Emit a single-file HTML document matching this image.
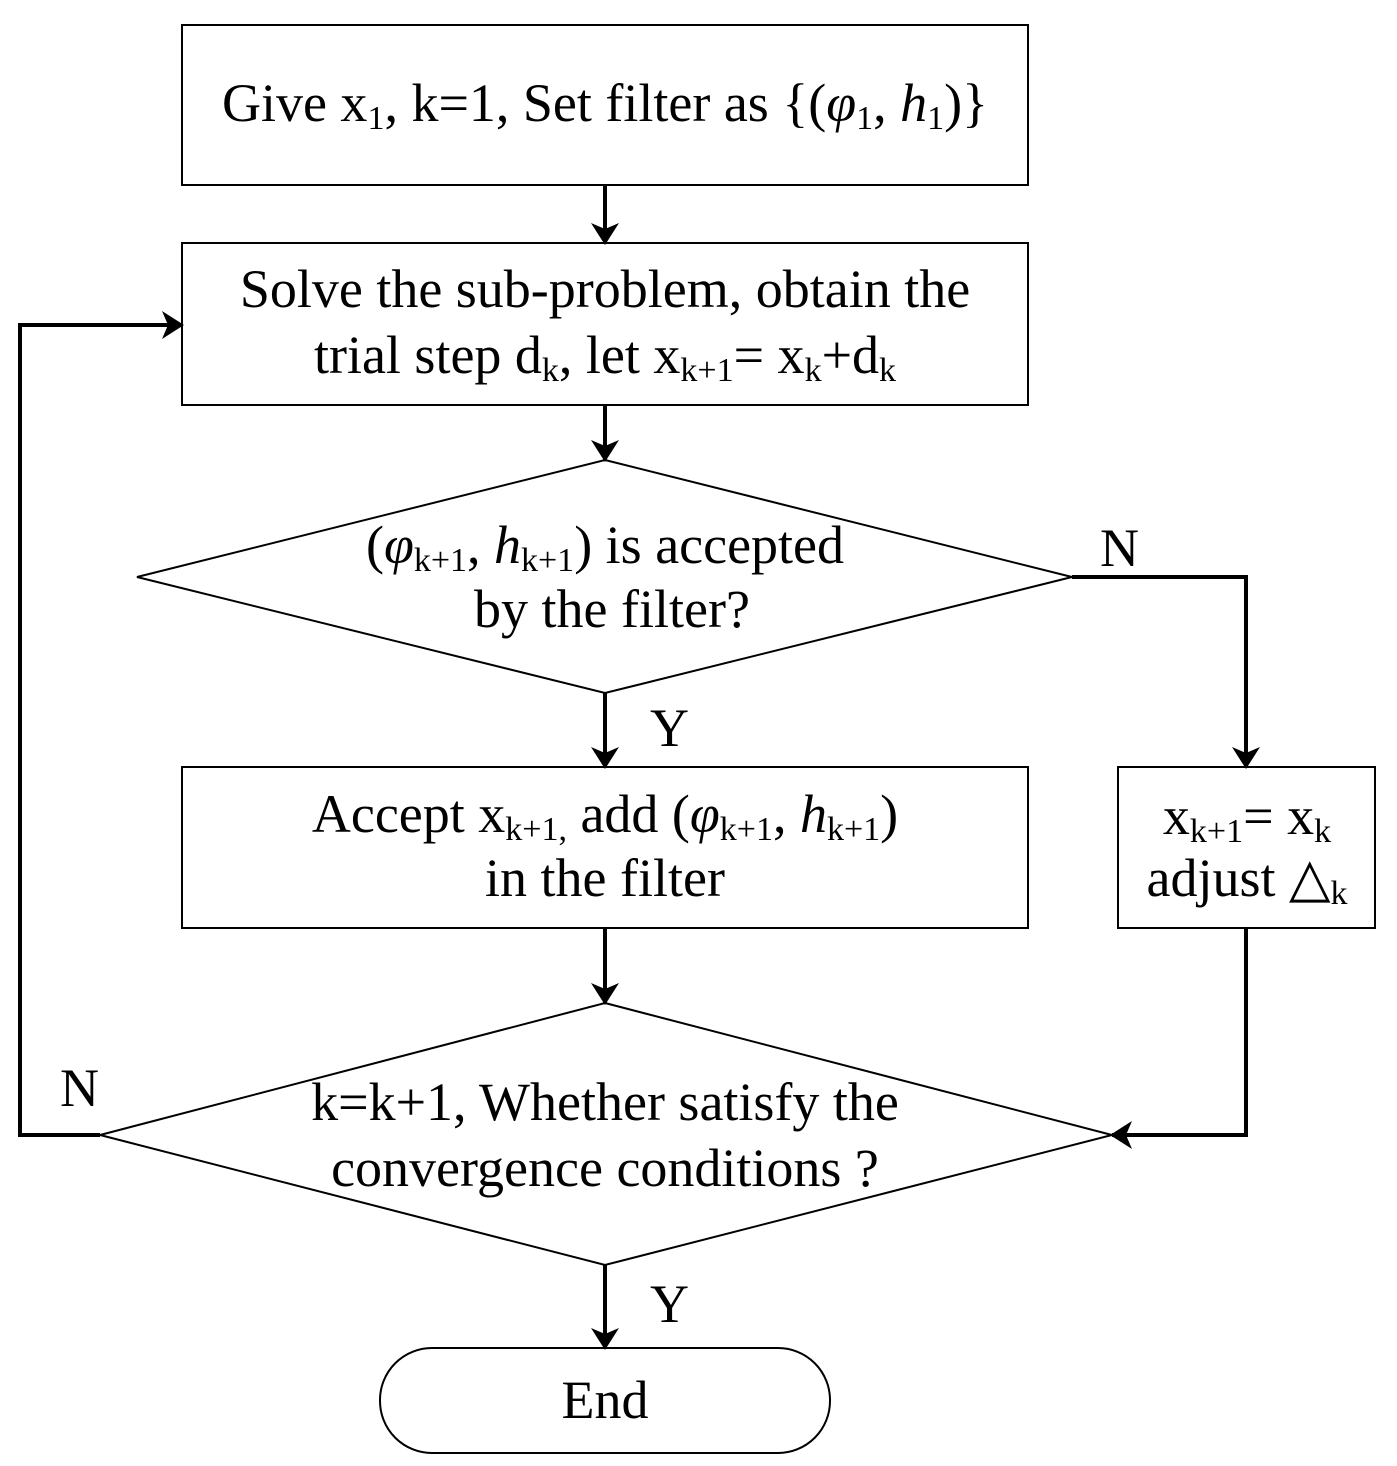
<!DOCTYPE html>
<html><head><meta charset="utf-8"><style>
html,body{margin:0;padding:0;background:#fff}
svg{display:block}
text{font-family:"Liberation Serif",serif;font-size:54px;fill:#000}
.s{font-size:34px}
</style></head><body>
<svg width="1397" height="1466" viewBox="0 0 1397 1466" xmlns="http://www.w3.org/2000/svg">
<defs>
<marker id="b" markerWidth="22" markerHeight="28" refX="20" refY="14" orient="auto" markerUnits="userSpaceOnUse" viewBox="0 0 22 28"><path d="M0,0 L22,14 L0,28 L6,14 z" fill="#000"/></marker></defs>
<g fill="none" stroke="#000" stroke-width="2">
<rect x="182" y="25" width="846" height="160"/>
<rect x="182" y="243" width="846" height="162"/>
<polygon points="605,460 1072,577 605,693 137,577"/>
<rect x="182" y="767" width="846" height="161"/>
<rect x="1118" y="767" width="257" height="161"/>
<polygon points="605,1003 1112,1135 605,1265 100,1135"/>
<rect x="380" y="1348" width="450" height="105" rx="52" ry="52"/>
</g>
<g fill="none" stroke="#000" stroke-width="4" marker-end="url(#b)">
<line x1="605" y1="185" x2="605" y2="243"/>
<line x1="605" y1="405" x2="605" y2="460"/>
<line x1="605" y1="693" x2="605" y2="767"/>
<line x1="605" y1="928" x2="605" y2="1003"/>
<line x1="605" y1="1265" x2="605" y2="1348"/>
<polyline points="1072,577 1246,577 1246,767"/>
<polyline points="1246,928 1246,1135 1112,1135"/>
<polyline points="100,1135 20,1135 20,325 182,325"/>
</g>
<text x="605" y="121" text-anchor="middle">Give x<tspan class="s" dy="8">1</tspan><tspan dy="-8">, k=1, Set filter as {(</tspan><tspan font-style="italic">φ</tspan><tspan class="s" dy="8">1</tspan><tspan dy="-8">, </tspan><tspan font-style="italic">h</tspan><tspan class="s" dy="8">1</tspan><tspan dy="-8">)}</tspan></text>
<text x="605" y="307" text-anchor="middle">Solve the sub-problem, obtain the</text>
<text x="605" y="373" text-anchor="middle">trial step d<tspan class="s" dy="8">k</tspan><tspan dy="-8">, let x</tspan><tspan class="s" dy="8">k+1</tspan><tspan dy="-8">= x</tspan><tspan class="s" dy="8">k</tspan><tspan dy="-8">+d</tspan><tspan class="s" dy="8">k</tspan></text>
<text x="605" y="563" text-anchor="middle">(<tspan font-style="italic">φ</tspan><tspan class="s" dy="8">k+1</tspan><tspan dy="-8">, </tspan><tspan font-style="italic">h</tspan><tspan class="s" dy="8">k+1</tspan><tspan dy="-8">) is accepted</tspan></text>
<text x="612" y="627" text-anchor="middle">by the filter?</text>
<text x="1100" y="566">N</text>
<text x="650" y="746">Y</text>
<text x="605" y="832" text-anchor="middle">Accept x<tspan class="s" dy="8">k+1,</tspan><tspan dy="-8"> add (</tspan><tspan font-style="italic">φ</tspan><tspan class="s" dy="8">k+1</tspan><tspan dy="-8">, </tspan><tspan font-style="italic">h</tspan><tspan class="s" dy="8">k+1</tspan><tspan dy="-8">)</tspan></text>
<text x="605" y="896" text-anchor="middle">in the filter</text>
<text x="1247" y="834" text-anchor="middle">x<tspan class="s" dy="8">k+1</tspan><tspan dy="-8">= x</tspan><tspan class="s" dy="8">k</tspan></text>
<text x="1247" y="896" text-anchor="middle">adjust △<tspan class="s" dy="8">k</tspan></text>
<text x="60" y="1106">N</text>
<text x="605" y="1120" text-anchor="middle">k=k+1, Whether satisfy the</text>
<text x="605" y="1186" text-anchor="middle">convergence  conditions ?</text>
<text x="650" y="1322">Y</text>
<text x="605" y="1418" text-anchor="middle">End</text>
</svg>
</body></html>
